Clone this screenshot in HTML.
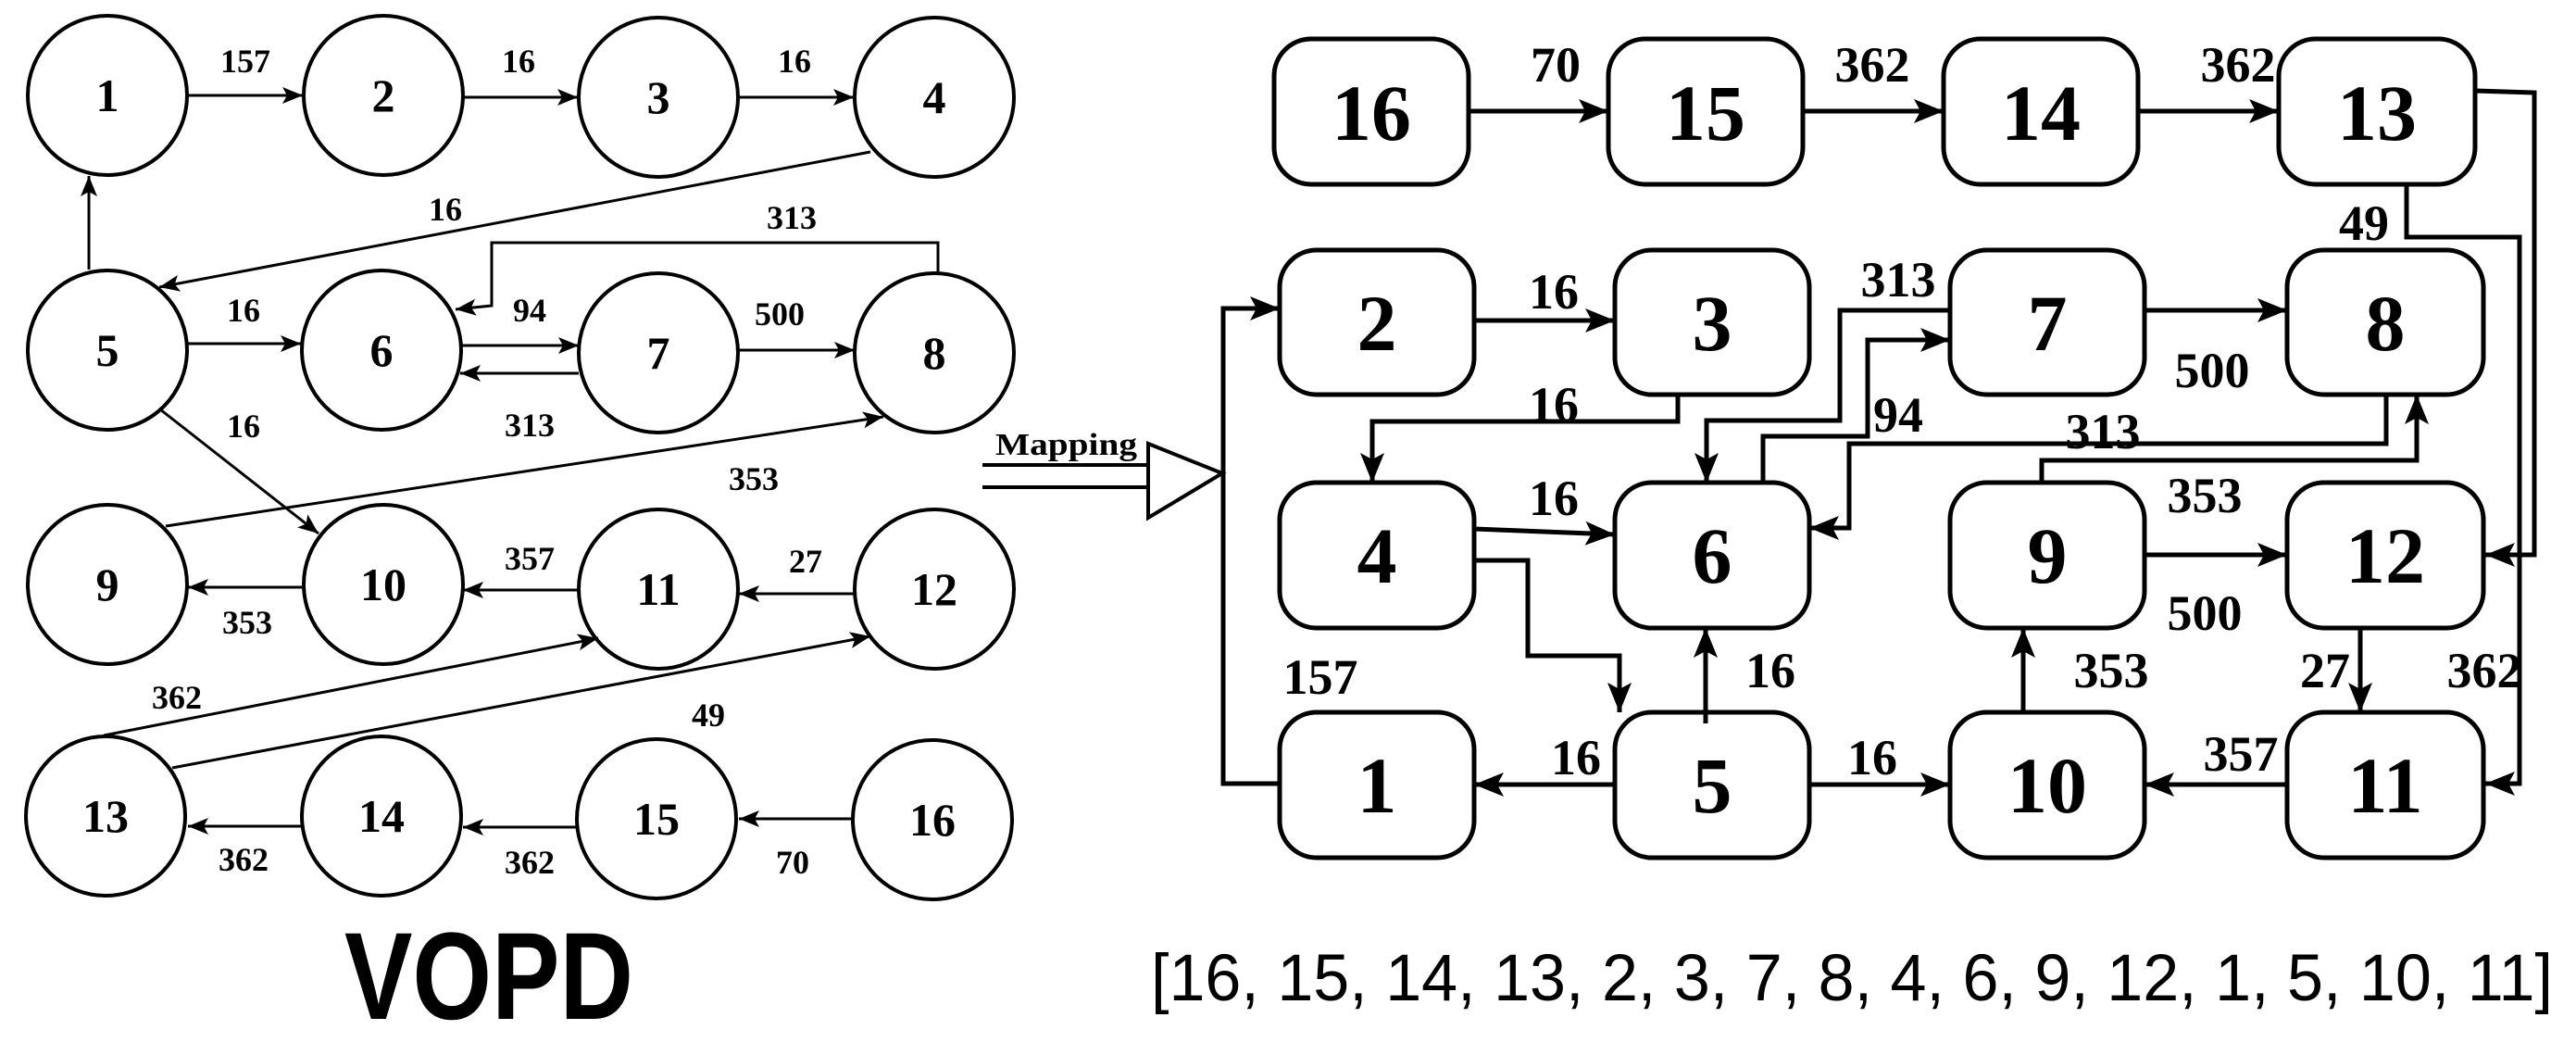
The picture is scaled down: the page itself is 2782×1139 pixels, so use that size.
<!DOCTYPE html>
<html><head><meta charset="utf-8"><style>html,body{margin:0;padding:0;background:#fff;}svg{display:block}</style></head>
<body>
<svg width="2782" height="1139" viewBox="0 0 2782 1139" xmlns="http://www.w3.org/2000/svg">
<defs>
<marker id="a" markerUnits="userSpaceOnUse" markerWidth="24" markerHeight="20" refX="22" refY="9" orient="auto"><path d="M0,0 L22,9 L0,18 L5,9 z" fill="#000"/></marker>
<marker id="b" markerUnits="userSpaceOnUse" markerWidth="34" markerHeight="28" refX="32" refY="13" orient="auto"><path d="M0,0 L32,13 L0,26 L7,13 z" fill="#000"/></marker>
</defs>
<rect width="2782" height="1139" fill="#fff"/>
<!-- left graph -->
<g fill="none" stroke="#000" stroke-width="4">
<circle cx="116" cy="103" r="86"/><circle cx="414" cy="103" r="86"/><circle cx="711" cy="105" r="86"/><circle cx="1009" cy="105" r="86"/>
<circle cx="116" cy="378" r="86"/><circle cx="412" cy="378" r="86"/><circle cx="711" cy="381" r="86"/><circle cx="1009" cy="381" r="86"/>
<circle cx="116" cy="631" r="86"/><circle cx="414" cy="631" r="86"/><circle cx="711" cy="636" r="86"/><circle cx="1009" cy="636" r="86"/>
<circle cx="114" cy="881" r="86"/><circle cx="412" cy="881" r="86"/><circle cx="709" cy="884" r="86"/><circle cx="1007" cy="885" r="86"/>
</g>
<g fill="none" stroke="#000" stroke-width="3" marker-end="url(#a)">
<path d="M203,103 L327,103"/><path d="M501,105 L624,105"/><path d="M798,105 L922,105"/>
<path d="M940,164 L172,310"/>
<path d="M1013,295 L1013,262 L531,262 L531,330 L492,334"/>
<path d="M96,291 L96,190"/>
<path d="M200,371 L325,371"/>
<path d="M497,373 L625,373"/><path d="M625,403 L497,403"/>
<path d="M797,378 L923,378"/>
<path d="M173,442 L344,576"/>
<path d="M179,568 L954,450"/>
<path d="M327,634 L203,634"/>
<path d="M625,637 L500,637"/>
<path d="M922,641 L798,641"/>
<path d="M112,794 L646,689"/>
<path d="M186,829 L940,687"/>
<path d="M327,892 L203,892"/>
<path d="M624,893 L500,893"/>
<path d="M922,884 L798,884"/>
</g>
<g font-family="Liberation Serif, serif" font-weight="bold" font-size="50" text-anchor="middle">
<text x="116" y="120">1</text><text x="414" y="120">2</text><text x="711" y="122">3</text><text x="1009" y="122">4</text>
<text x="116" y="395">5</text><text x="412" y="395">6</text><text x="711" y="398">7</text><text x="1009" y="398">8</text>
<text x="116" y="648">9</text><text x="414" y="648">10</text><text x="711" y="653">11</text><text x="1009" y="653">12</text>
<text x="114" y="898">13</text><text x="412" y="898">14</text><text x="709" y="901">15</text><text x="1007" y="902">16</text>
</g>
<g font-family="Liberation Serif, serif" font-weight="bold" font-size="36" text-anchor="middle">
<text x="265" y="78">157</text><text x="560" y="78">16</text><text x="858" y="78">16</text>
<text x="481" y="238">16</text><text x="855" y="247">313</text>
<text x="263" y="347">16</text><text x="572" y="347">94</text><text x="842" y="351">500</text>
<text x="263" y="472">16</text><text x="572" y="471">313</text><text x="814" y="529">353</text>
<text x="572" y="615">357</text><text x="870" y="618">27</text><text x="267" y="684">353</text>
<text x="191" y="765">362</text><text x="765" y="784">49</text>
<text x="263" y="940">362</text><text x="572" y="943">362</text><text x="856" y="943">70</text>
</g>
<text x="528" y="1100" font-family="Liberation Sans, sans-serif" font-weight="bold" font-size="134" text-anchor="middle" textLength="312" lengthAdjust="spacingAndGlyphs">VOPD</text>
<!-- mapping -->
<text x="1075" y="491" font-family="Liberation Serif, serif" font-weight="bold" font-size="34" textLength="153" lengthAdjust="spacingAndGlyphs">Mapping</text>
<g stroke="#000" stroke-width="4" fill="none">
<path d="M1061,502 L1240,502 M1061,526 L1240,526"/>
<path d="M1240,479 L1240,559 L1320,511 z" fill="#fff"/>
</g>
<!-- right graph -->
<g fill="none" stroke="#000" stroke-width="5">
<rect x="1376" y="42" width="210" height="157" rx="40"/><rect x="1737" y="42" width="210" height="157" rx="40"/><rect x="2099" y="42" width="210" height="157" rx="40"/><rect x="2461" y="42" width="212" height="157" rx="40"/>
<rect x="1382" y="270" width="210" height="156" rx="40"/><rect x="1744" y="270" width="210" height="156" rx="40"/><rect x="2106" y="270" width="210" height="156" rx="40"/><rect x="2470" y="270" width="212" height="156" rx="40"/>
<rect x="1382" y="521" width="210" height="157" rx="40"/><rect x="1744" y="521" width="210" height="157" rx="40"/><rect x="2106" y="521" width="210" height="157" rx="40"/><rect x="2470" y="521" width="212" height="157" rx="40"/>
<rect x="1382" y="769" width="210" height="157" rx="40"/><rect x="1744" y="769" width="210" height="157" rx="40"/><rect x="2106" y="769" width="210" height="157" rx="40"/><rect x="2470" y="769" width="212" height="157" rx="40"/>
</g>
<g fill="none" stroke="#000" stroke-width="5" marker-end="url(#b)">
<path d="M1586,120 L1737,120"/><path d="M1947,120 L2099,120"/><path d="M2309,120 L2461,120"/>
<path d="M2673,98 L2737,100 L2737,599 L2684,599"/>
<path d="M2599,200 L2599,256 L2721,256 L2721,846 L2684,846"/>
<path d="M1592,346 L1744,346"/>
<path d="M1812,426 L1812,455 L1482,455 L1482,521"/>
<path d="M2106,335 L1987,335 L1987,454 L1843,454 L1843,521"/>
<path d="M1904,521 L1904,471 L2017,471 L2017,367 L2106,367"/>
<path d="M2316,335 L2470,335"/>
<path d="M2577,426 L2577,479 L1997,479 L1997,570 L1954,570"/>
<path d="M2205,521 L2205,497 L2610,497 L2610,426"/>
<path d="M2316,599 L2470,599"/>
<path d="M2549,678 L2549,769"/>
<path d="M2470,847 L2316,847"/>
<path d="M2185,769 L2185,678"/>
<path d="M1842,781 L1842,678"/>
<path d="M1954,847 L2106,847"/>
<path d="M1744,847 L1592,847"/>
<path d="M1592,571 L1744,577"/>
<path d="M1592,605 L1650,605 L1650,708 L1749,708 L1749,769"/>
<path d="M1382,846 L1321,846 L1321,333 L1382,333"/>
</g>
<g font-family="Liberation Serif, serif" font-weight="bold" font-size="86" text-anchor="middle">
<text x="1481" y="151">16</text><text x="1842" y="151">15</text><text x="2204" y="151">14</text><text x="2567" y="151">13</text>
<text x="1487" y="378">2</text><text x="1849" y="378">3</text><text x="2211" y="378">7</text><text x="2576" y="378">8</text>
<text x="1487" y="629">4</text><text x="1849" y="629">6</text><text x="2211" y="629">9</text><text x="2576" y="629">12</text>
<text x="1487" y="877">1</text><text x="1849" y="877">5</text><text x="2211" y="877">10</text><text x="2576" y="877">11</text>
</g>
<g font-family="Liberation Serif, serif" font-weight="bold" font-size="54" text-anchor="middle">
<text x="1680" y="88">70</text><text x="2022" y="88">362</text><text x="2417" y="88">362</text>
<text x="2553" y="259">49</text>
<text x="1678" y="333">16</text><text x="2050" y="320">313</text>
<text x="2389" y="418">500</text>
<text x="1678" y="455">16</text><text x="2050" y="466">94</text><text x="2271" y="484">313</text>
<text x="1678" y="556">16</text><text x="2381" y="553">353</text>
<text x="2381" y="680">500</text>
<text x="1426" y="749">157</text><text x="1912" y="742">16</text><text x="2280" y="742">353</text><text x="2511" y="742">27</text><text x="2683" y="742">362</text>
<text x="1702" y="836">16</text><text x="2022" y="836">16</text><text x="2420" y="832">357</text>
</g>
<text x="1243" y="1080" font-family="Liberation Sans, sans-serif" font-size="71" textLength="1514" lengthAdjust="spacingAndGlyphs">[16, 15, 14, 13, 2, 3, 7, 8, 4, 6, 9, 12, 1, 5, 10, 11]</text>
</svg>
</body></html>
